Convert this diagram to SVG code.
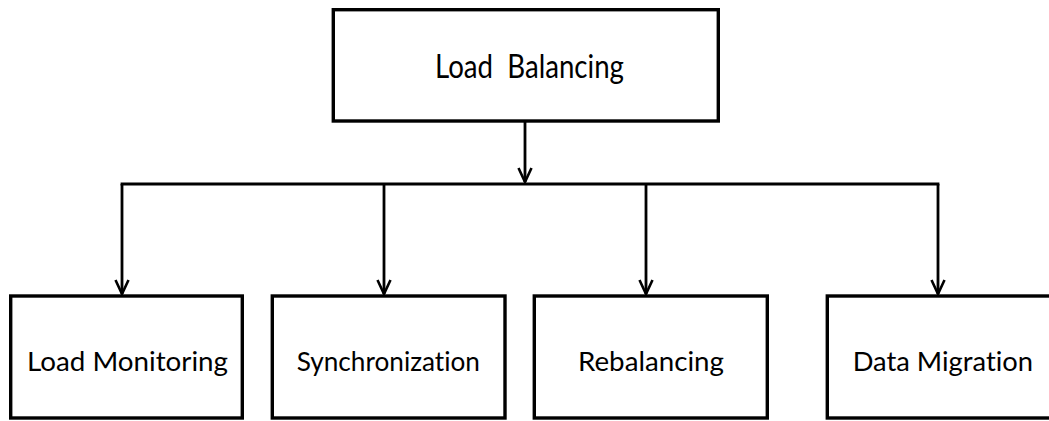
<svg xmlns="http://www.w3.org/2000/svg" width="1049" height="421" viewBox="0 0 1049 421">
  <style>
    .box { fill: #ffffff; stroke: #000000; stroke-width: 3.4; }
    .label { font-family: Lato, "Open Sans", "Liberation Sans", sans-serif; fill: #000000; font-variant-ligatures: none; font-feature-settings: "liga" 0, "clig" 0; }
    .small { font-size: 26.5px; }
    .big { font-size: 32.5px; }
    .wire { fill: none; stroke: #000000; stroke-width: 2.8; }
  </style>
  <defs>
    <marker id="arrow" viewBox="0 0 16 16" refX="15" refY="8" markerWidth="16" markerHeight="16" markerUnits="userSpaceOnUse" orient="auto">
      <path d="M1,1.5 L15,8 L1,14.5" fill="none" stroke="#000000" stroke-width="2.6"/>
    </marker>
  </defs>

  <rect width="1049" height="421" fill="#ffffff"/>

  <!-- connectors -->
  <g id="connectors">
    <line class="wire" x1="525" y1="121" x2="525" y2="182" marker-end="url(#arrow)"/>
    <line class="wire" x1="120.6" y1="184" x2="939.4" y2="184"/>
    <line class="wire" x1="122" y1="184" x2="122" y2="294" marker-end="url(#arrow)"/>
    <line class="wire" x1="384" y1="184" x2="384" y2="294" marker-end="url(#arrow)"/>
    <line class="wire" x1="646" y1="184" x2="646" y2="294" marker-end="url(#arrow)"/>
    <line class="wire" x1="938" y1="184" x2="938" y2="294" marker-end="url(#arrow)"/>
  </g>

  <!-- root node -->
  <g id="load-balancing">
    <rect class="box" x="333.3" y="9.7" width="385" height="111.3"/>
    <text class="label big" x="435" y="77.7" textLength="189" lengthAdjust="spacingAndGlyphs" xml:space="preserve">Load  Balancing</text>
  </g>

  <!-- child nodes -->
  <g id="load-monitoring">
    <rect class="box" x="10.7" y="296" width="231.6" height="122"/>
    <text class="label small" x="27" y="370.5" textLength="201" lengthAdjust="spacingAndGlyphs">Load Monitoring</text>
  </g>
  <g id="synchronization">
    <rect class="box" x="272.3" y="296" width="232.7" height="122"/>
    <text class="label small" x="296.7" y="370.5" textLength="183.3" lengthAdjust="spacingAndGlyphs">Synchronization</text>
  </g>
  <g id="rebalancing">
    <rect class="box" x="534.3" y="296" width="233" height="122"/>
    <text class="label small" x="578" y="370.5" textLength="146" lengthAdjust="spacingAndGlyphs">Rebalancing</text>
  </g>
  <g id="data-migration">
    <rect class="box" x="827.3" y="296" width="240" height="122"/>
    <text class="label small" x="852.7" y="370.5" textLength="180.3" lengthAdjust="spacingAndGlyphs">Data Migration</text>
  </g>
</svg>
